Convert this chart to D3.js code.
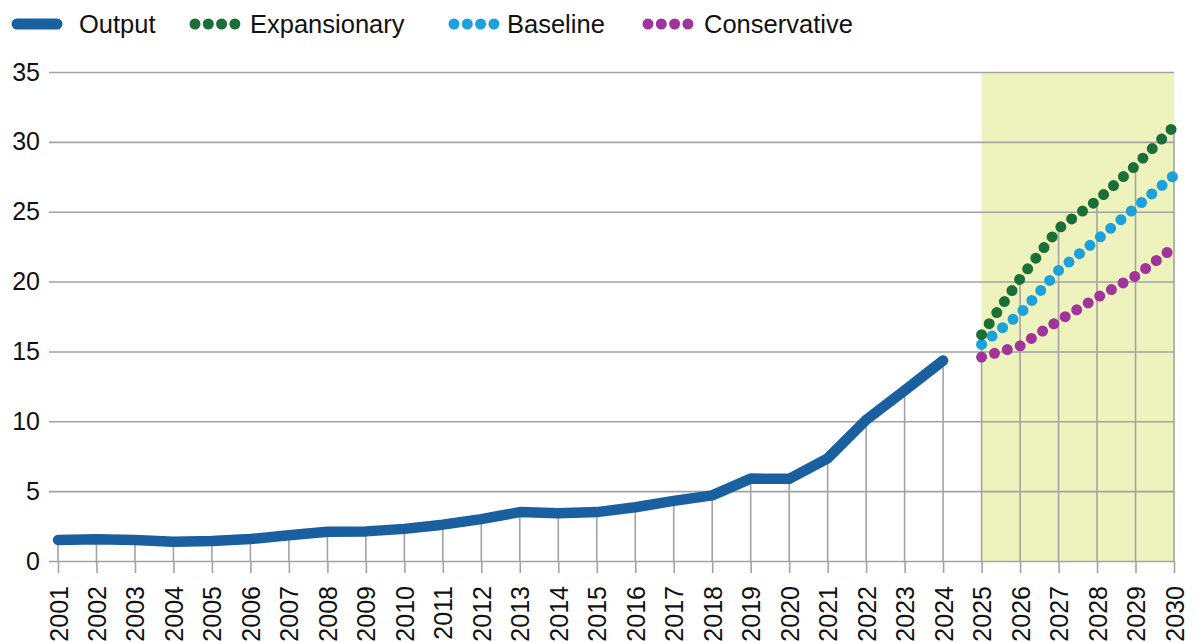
<!DOCTYPE html>
<html>
<head>
<meta charset="utf-8">
<script src="https://cdn.jsdelivr.net/npm/d3@7"></script>
<style>
  body { margin: 0; background: #fff; }
  text { font-family: "Liberation Sans", Arial, sans-serif; fill: #111; }
</style>
</head>
<body>
<div id="chart"></div>
<script>
// history
var outputYears = [2001, 2002, 2003, 2004, 2005, 2006, 2007, 2008, 2009, 2010, 2011, 2012,
                   2013, 2014, 2015, 2016, 2017, 2018, 2019, 2020, 2021, 2022, 2023, 2024];
var outputValues = [1.5, 1.55, 1.5, 1.37, 1.43, 1.57, 1.85, 2.1, 2.12, 2.3, 2.6, 3.0,
                    3.5, 3.42, 3.5, 3.85, 4.3, 4.7, 5.9, 5.88, 7.35, 10.1, 12.2, 14.35];

// scenarios
var projYears = [2025, 2026, 2027, 2028, 2029, 2030];
var expansionary = [16.2, 20.2, 23.8, 25.8, 28.3, 31.1];
var baseline = [15.5, 17.7, 20.8, 23.0, 25.3, 27.6];
var conservative = [14.6, 15.4, 17.2, 18.85, 20.4, 22.45];

var yTicks = [0, 5, 10, 15, 20, 25, 30, 35];
var allYears = d3.range(2001, 2031);

var width = 1197, height = 642;

var svg = d3.select("#chart").append("svg")
    .attr("width", width)
    .attr("height", height);

var x = d3.scaleLinear().domain([2001, 2030]).range([58, 1174]);
var y = d3.scaleLinear().domain([0, 35]).range([561, 72]);

var grey = "#a3a3a3";

// projection shading
svg.append("rect")
    .attr("x", x(2025))
    .attr("y", y(35))
    .attr("width", x(2030) - x(2025))
    .attr("height", y(0) - y(35))
    .attr("fill", "#eef3be");

// y axis + horizontal grid
var yAxis = svg.append("g")
    .attr("transform", "translate(49,0)")
    .call(d3.axisLeft(y).tickValues(yTicks).tickSize(-(x(2030) - 49)).tickPadding(9));
yAxis.select(".domain").remove();
yAxis.selectAll("line").attr("stroke", grey).attr("stroke-width", 1.6);
yAxis.selectAll("text").attr("font-size", 25).attr("fill", "#111")
    .style("font-family", "Liberation Sans, Arial, sans-serif");

// x axis ticks + labels
var xAxis = svg.append("g")
    .attr("transform", "translate(0," + y(0) + ")")
    .call(d3.axisBottom(x).tickValues(allYears).tickFormat(d3.format("d")).tickSize(12));
xAxis.select(".domain").remove();
xAxis.selectAll("line").attr("stroke", grey).attr("stroke-width", 1.6);
xAxis.selectAll("text")
    .attr("transform", "rotate(-90)")
    .attr("x", -25)
    .attr("y", 0)
    .attr("dy", "0.36em")
    .attr("text-anchor", "end")
    .attr("font-size", 25)
    .attr("fill", "#111")
    .style("font-family", "Liberation Sans, Arial, sans-serif");

// drop lines
var dropData = outputYears.map((yr, i) => ({ year: yr, value: outputValues[i] }))
    .concat(projYears.map((yr, i) => ({
        year: yr,
        value: Math.max(expansionary[i], baseline[i], conservative[i])
    })));

svg.append("g").selectAll("line")
    .data(dropData)
    .enter()
    .append("line")
    .attr("x1", d => x(d.year))
    .attr("x2", d => x(d.year))
    .attr("y1", y(0))
    .attr("y2", d => y(d.value))
    .attr("stroke", grey)
    .attr("stroke-width", 1.6);

// output line
var line = d3.line()
    .x(d => x(d[0]))
    .y(d => y(d[1]));

svg.append("path")
    .datum(outputYears.map((yr, i) => [yr, outputValues[i]]))
    .attr("d", line)
    .attr("fill", "none")
    .attr("stroke", "#1a5f9f")
    .attr("stroke-width", 10.5)
    .attr("stroke-linecap", "round")
    .attr("stroke-linejoin", "round");

// dotted scenarios
var scenarios = [
    { name: "Conservative", values: conservative, color: "#a0349b" },
    { name: "Baseline", values: baseline, color: "#1ca1dc" },
    { name: "Expansionary", values: expansionary, color: "#1a6f39" }
];

svg.append("g").selectAll("path")
    .data(scenarios)
    .enter()
    .append("path")
    .attr("d", d => line(projYears.map((yr, i) => [yr, d.values[i]])))
    .attr("fill", "none")
    .attr("stroke", d => d.color)
    .attr("stroke-width", 11)
    .attr("stroke-linecap", "round")
    .attr("stroke-dasharray", "0 13.4");

// legend
var legend = svg.append("g");

legend.append("line")
    .attr("x1", 17).attr("x2", 57)
    .attr("y1", 24).attr("y2", 24)
    .attr("stroke", "#1a5f9f")
    .attr("stroke-width", 11)
    .attr("stroke-linecap", "round");
legend.append("text")
    .attr("x", 79).attr("y", 33)
    .attr("font-size", 25.5)
    .text("Output");

var legendItems = [
    { label: "Expansionary", color: "#1a6f39", dotX: 195, textX: 250 },
    { label: "Baseline", color: "#1ca1dc", dotX: 454, textX: 507 },
    { label: "Conservative", color: "#a0349b", dotX: 648, textX: 704 }
];

legendItems.forEach(function (item) {
    legend.selectAll(null)
        .data(d3.range(4))
        .enter()
        .append("circle")
        .attr("cx", i => item.dotX + i * 13.3)
        .attr("cy", 24)
        .attr("r", 5.5)
        .attr("fill", item.color);
    legend.append("text")
        .attr("x", item.textX).attr("y", 33)
        .attr("font-size", 25.5)
        .text(item.label);
});
</script>
</body>
</html>
